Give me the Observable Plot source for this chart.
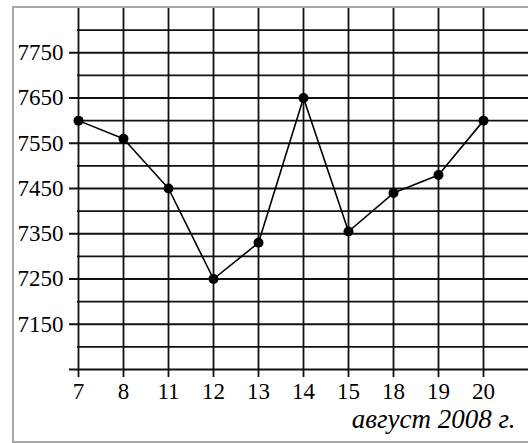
<!DOCTYPE html>
<html><head><meta charset="utf-8">
<script src="https://cdn.jsdelivr.net/npm/d3@7"></script>
<script src="https://cdn.jsdelivr.net/npm/@observablehq/plot@0.6"></script>
<style>
body{margin:0;background:#fff}
#wrap{position:relative;width:528px;height:443px;overflow:hidden}
#wrap svg{position:absolute;left:0;top:0}
#border{position:absolute;left:12px;top:6px;width:540px;height:437px;border:2px solid #a8a8a8;box-sizing:border-box;pointer-events:none}
</style></head><body><div id="wrap"><div id="border"></div></div>
<script>
const days = ["7", "8", "11", "12", "13", "14", "15", "18", "19", "20"];
const prices = [7600, 7560, 7450, 7250, 7330, 7650, 7355, 7440, 7480, 7600];
const yTickLabels = [7150, 7250, 7350, 7450, 7550, 7650, 7750];
const gridLevels = [7050, 7100, 7150, 7200, 7250, 7300, 7350, 7400, 7450, 7500, 7550, 7600, 7650, 7700, 7750, 7800];
const yDomain = [7050, 7850];
const xCaption = "август 2008 г.";

const data = days.map((d, i) => ({day: d, price: prices[i]}));
const labeled = new Set(yTickLabels.concat([gridLevels[0]]));

const chart = Plot.plot({
  width: 528, height: 443,
  marginLeft: 77, marginRight: 44, marginTop: 7, marginBottom: 74,
  style: {fontFamily: "'Liberation Serif', serif", fontSize: "23px", color: "#000", background: "transparent"},
  x: {type: "point", domain: days, padding: 0, label: null},
  y: {domain: yDomain, label: null},
  marks: [
    Plot.ruleY(gridLevels.filter(v => !labeled.has(v)), {stroke: "#111", strokeWidth: 1.8, insetRight: -50}),
    Plot.ruleY(gridLevels.filter(v => labeled.has(v)), {stroke: "#111", strokeWidth: 1.8, insetLeft: -8, insetRight: -50}),
    Plot.ruleX(days, {stroke: "#111", strokeWidth: 1.8, insetBottom: -8}),
    Plot.axisX({tickSize: 0, tickPadding: 13, fontSize: 23, label: null}),
    Plot.axisY({ticks: yTickLabels, tickSize: 0, tickPadding: 14, fontSize: 23, tickFormat: d => String(d), label: null}),
    Plot.line(data, {x: "day", y: "price", stroke: "#000", strokeWidth: 1.6}),
    Plot.dot(data, {x: "day", y: "price", r: 5, fill: "#000", stroke: "none"}),
    Plot.text([xCaption], {frameAnchor: "bottom-right", dx: 31, dy: 58, textAnchor: "end", fontStyle: "italic", fontSize: 27, fill: "#000"})
  ]
});
const wrap = document.getElementById("wrap");
wrap.insertBefore(chart, wrap.firstChild);
</script>
</body></html>
